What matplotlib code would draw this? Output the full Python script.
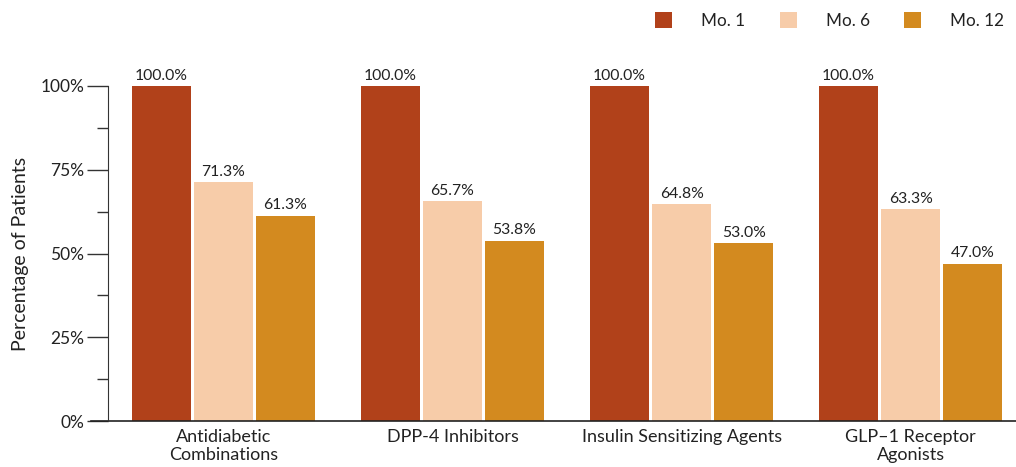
import numpy as np
import matplotlib
matplotlib.use('Agg')
import matplotlib.pyplot as plt
from matplotlib.patches import Patch
from matplotlib.ticker import MultipleLocator, FuncFormatter

categories = ['Antidiabetic\nCombinations', 'DPP-4 Inhibitors',
              'Insulin Sensitizing Agents', 'GLP\u20131 Receptor\nAgonists']
series_names = ['Mo. 1', 'Mo. 6', 'Mo. 12']
mo1 = [100.0, 100.0, 100.0, 100.0]
mo6 = [71.3, 65.7, 64.8, 63.3]
mo12 = [61.3, 53.8, 53.0, 47.0]

colors = ['#B1411A', '#F7CCA9', '#D38A1F']
txt = '#222222'

plt.rcParams['font.family'] = ['Lato', 'DejaVu Sans']

fig = plt.figure(figsize=(10.16, 4.67), dpi=100)
ax = fig.add_axes([108/1016, 46/467, 908/1016, 335/467])

x = np.arange(len(categories))
off = 0.271
w = 0.258
for i, (vals, c) in enumerate(zip([mo1, mo6, mo12], colors)):
    pos = x + (i - 1) * off
    bars = ax.bar(pos, vals, width=w, color=c, linewidth=0)
    for b, v in zip(bars, vals):
        ax.text(b.get_x() + b.get_width() / 2, v + 1.0, '%.1f%%' % v,
                ha='center', va='bottom', fontsize=11.3, color=txt, clip_on=False)

ax.set_xlim(-0.504, 3.46)
ax.set_ylim(0, 100)
ax.set_xticks(x)
ax.set_xticklabels(categories, fontsize=13, color=txt, linespacing=1.1)
ax.tick_params(axis='x', length=0, pad=6)

ax.yaxis.set_major_locator(MultipleLocator(25))
ax.yaxis.set_minor_locator(MultipleLocator(12.5))
ax.yaxis.set_major_formatter(FuncFormatter(lambda v, p: '%d%%' % v))
ax.tick_params(axis='y', which='major', length=15, width=1, labelsize=12.5,
               labelcolor=txt, color='#333333', pad=2)
ax.tick_params(axis='y', which='minor', length=8, width=1, color='#333333')
ax.set_ylabel('Percentage of Patients', fontsize=14, color=txt, labelpad=8)

for s in ['top', 'right', 'bottom']:
    ax.spines[s].set_visible(False)
ax.spines['left'].set_color('#333333')
# baseline extends left past the y axis
ax.plot([-17/908, 1], [0, 0], transform=ax.transAxes, color='#222222',
        lw=1.2, clip_on=False)

handles = [Patch(facecolor=c, edgecolor='none') for c in colors]
fig.legend(handles, series_names, loc='upper right', bbox_to_anchor=(1.0, 1.0),
           ncol=3, frameon=False, fontsize=12.3, handlelength=1.0, handleheight=1.1,
           handletextpad=1.7, columnspacing=2.0, labelcolor=txt,
           borderaxespad=0.3)

fig.savefig('out.png', dpi=100)
